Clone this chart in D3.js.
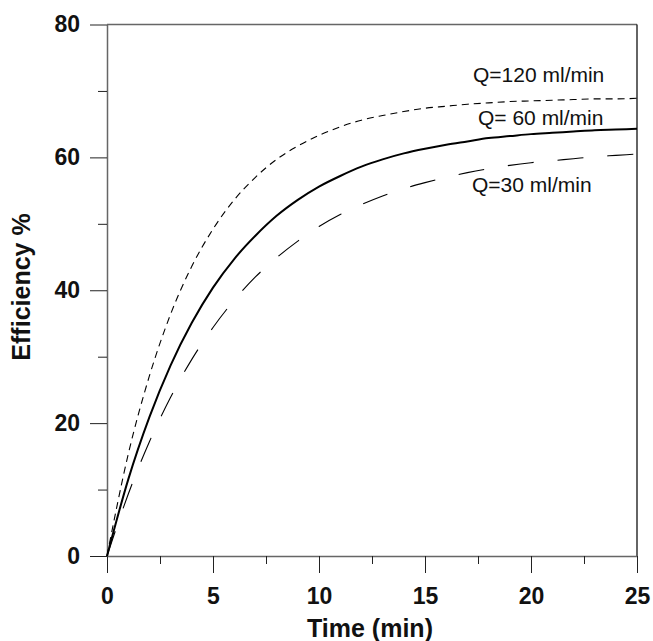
<!DOCTYPE html>
<html>
<head>
<meta charset="utf-8">
<script src="https://cdn.jsdelivr.net/npm/d3@7"></script>
<style>
  body { margin: 0; background: #fff; }
  text { font-family: "Liberation Sans", Arial, sans-serif; }
</style>
</head>
<body>
<div id="chart"></div>
<script>
// time in minutes
var time = [0, 1, 2, 3, 4, 5, 6, 7, 8, 9, 10, 11, 12, 13, 14, 15, 16, 17, 18, 19, 20, 21, 22, 23, 24, 25];

// efficiency %
var q120 = [0, 15.3, 27.1, 36.4, 43.6, 49.2, 53.6, 57.0, 59.7, 61.7, 63.3, 64.6, 65.6, 66.3, 66.9, 67.4, 67.7, 68.0, 68.2, 68.4, 68.5, 68.6, 68.7, 68.8, 68.8, 68.9];
var q60 = [0, 11.5, 20.9, 28.7, 35.1, 40.4, 44.7, 48.2, 51.2, 53.6, 55.6, 57.2, 58.6, 59.7, 60.6, 61.3, 61.9, 62.4, 62.9, 63.2, 63.5, 63.7, 63.9, 64.1, 64.2, 64.3];
var q30 = [0, 9.3, 17.2, 23.9, 29.6, 34.4, 38.5, 42.0, 44.9, 47.4, 49.6, 51.4, 52.9, 54.2, 55.3, 56.2, 57.0, 57.7, 58.3, 58.8, 59.2, 59.5, 59.8, 60.1, 60.3, 60.5];

var xMajor = [0, 5, 10, 15, 20, 25];
var xMinor = [2.5, 7.5, 12.5, 17.5, 22.5];
var yMajor = [0, 20, 40, 60, 80];
var yMinor = [10, 30, 50, 70];

var series = [
  {name: "Q=120 ml/min", values: q120, dash: "7,5", width: 1.1, lx: 473, ly: 82},
  {name: "Q= 60 ml/min", values: q60, dash: null, width: 2, lx: 478, ly: 125},
  {name: "Q=30 ml/min", values: q30, dash: "26,24", width: 1.1, lx: 472, ly: 192}
];

var width = 653, height = 641;
var margin = {top: 24.5, right: 16, bottom: 85, left: 107};

var svg = d3.select("#chart").append("svg")
    .attr("width", width)
    .attr("height", height);

var x = d3.scaleLinear().domain([0, 25]).range([margin.left, width - margin.right]);
var y = d3.scaleLinear().domain([0, 80]).range([height - margin.bottom, margin.top]);

// frame: top gray, right black
svg.append("line")
    .attr("x1", x(0)).attr("x2", x(25))
    .attr("y1", y(80)).attr("y2", y(80))
    .attr("stroke", "#666").attr("stroke-width", 1.5);
svg.append("line")
    .attr("x1", x(25)).attr("x2", x(25))
    .attr("y1", y(80)).attr("y2", y(0))
    .attr("stroke", "#111").attr("stroke-width", 1.3);

function styleAxis(g) {
    g.select(".domain").attr("stroke", "#666").attr("stroke-width", 1.5);
    g.selectAll(".tick line").attr("stroke", "#222").attr("stroke-width", 1);
    g.selectAll(".tick text")
        .attr("fill", "#111")
        .style("font-size", "23px")
        .style("font-weight", "bold");
}

// x axis
svg.append("g")
    .attr("transform", "translate(0," + y(0) + ")")
    .call(d3.axisBottom(x).tickValues(xMinor).tickSize(8).tickFormat("").tickSizeOuter(0))
    .call(styleAxis);
svg.append("g")
    .attr("transform", "translate(0," + y(0) + ")")
    .call(d3.axisBottom(x).tickValues(xMajor).tickSize(17).tickPadding(15).tickSizeOuter(0))
    .call(styleAxis)
    .call(function(g) { g.select(".domain").remove(); });

// y axis
svg.append("g")
    .attr("transform", "translate(" + x(0) + ",0)")
    .call(d3.axisLeft(y).tickValues(yMinor).tickSize(9).tickFormat("").tickSizeOuter(0))
    .call(styleAxis);
svg.append("g")
    .attr("transform", "translate(" + x(0) + ",0)")
    .call(d3.axisLeft(y).tickValues(yMajor).tickSize(17).tickPadding(10).tickSizeOuter(0))
    .call(styleAxis)
    .call(function(g) { g.select(".domain").remove(); });

// curves
var line = d3.line()
    .x(function(d, i) { return x(time[i]); })
    .y(function(d) { return y(d); })
    .curve(d3.curveMonotoneX);

svg.selectAll(".curve")
    .data(series)
    .enter().append("path")
    .attr("class", "curve")
    .attr("d", function(d) { return line(d.values); })
    .attr("fill", "none")
    .attr("stroke", "#000")
    .attr("stroke-width", function(d) { return d.width; })
    .attr("stroke-dasharray", function(d) { return d.dash; });

// curve labels
svg.selectAll(".label")
    .data(series)
    .enter().append("text")
    .attr("class", "label")
    .attr("x", function(d) { return d.lx; })
    .attr("y", function(d) { return d.ly; })
    .attr("fill", "#111")
    .style("font-size", "21px")
    .text(function(d) { return d.name; });

// axis titles
svg.append("text")
    .attr("x", 370)
    .attr("y", 637)
    .attr("text-anchor", "middle")
    .attr("fill", "#111")
    .style("font-size", "25px")
    .style("font-weight", "bold")
    .text("Time (min)");

svg.append("text")
    .attr("transform", "translate(30," + 287 + ") rotate(-90)")
    .attr("text-anchor", "middle")
    .attr("fill", "#111")
    .style("font-size", "25px")
    .style("font-weight", "bold")
    .text("Efficiency %");
</script>
</body>
</html>
